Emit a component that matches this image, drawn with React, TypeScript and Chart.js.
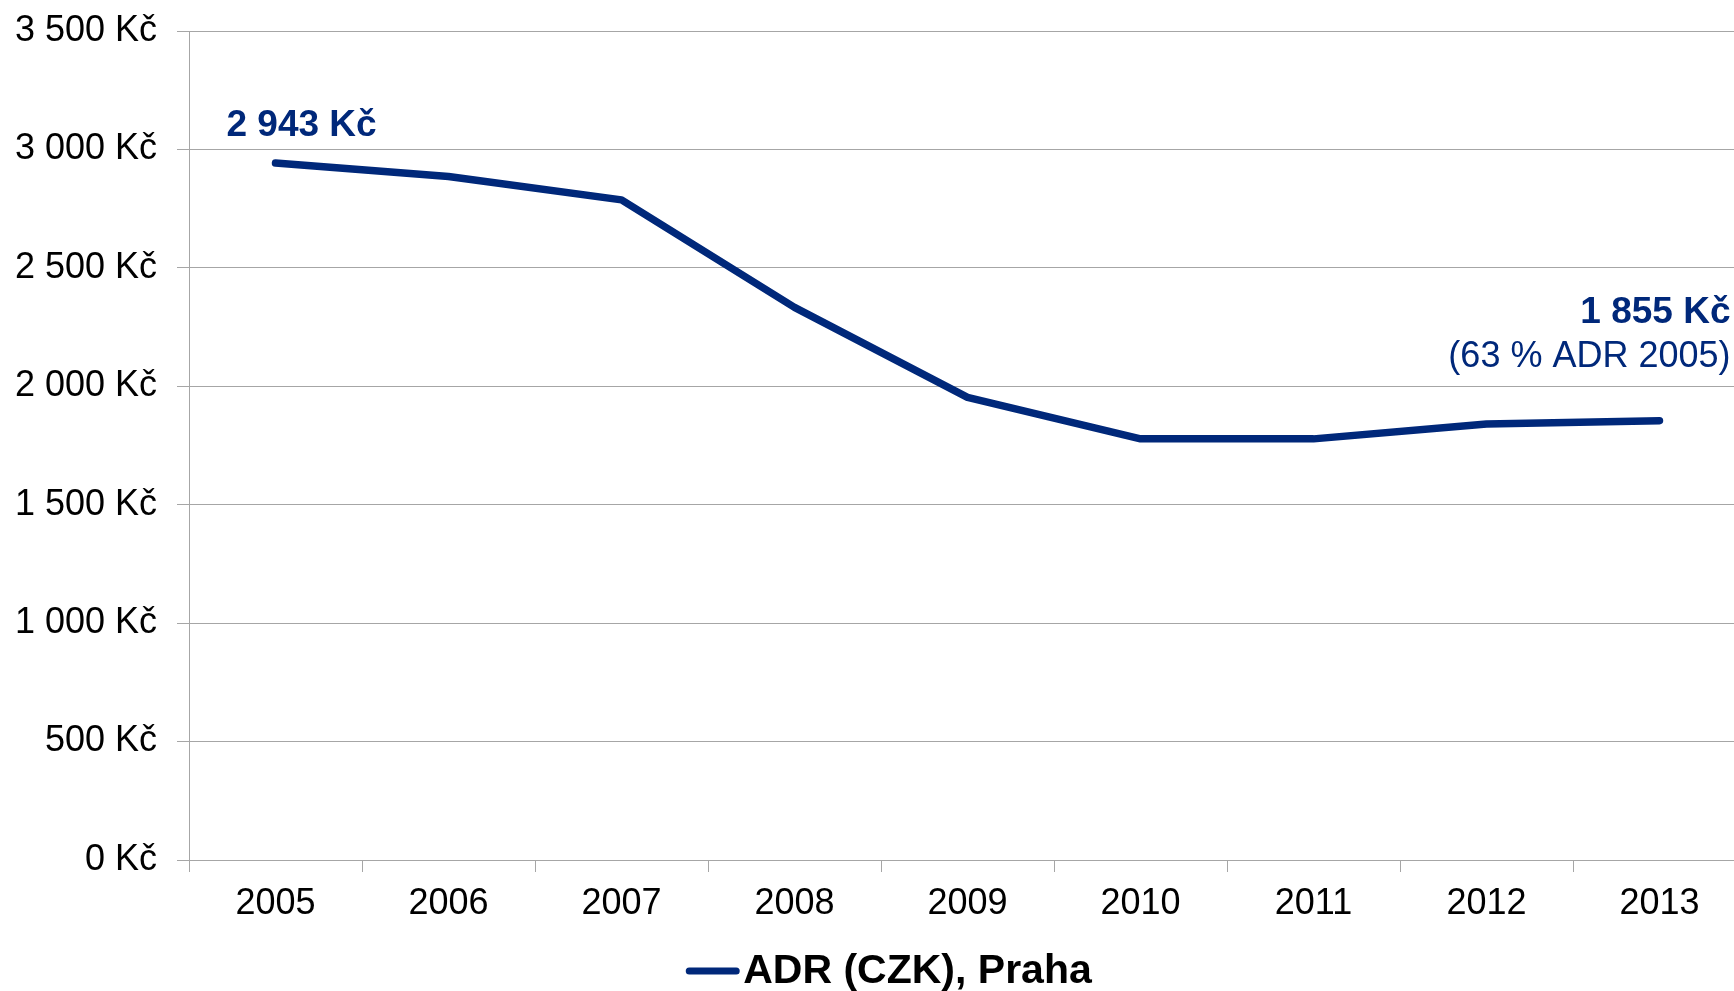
import React, { useEffect, useRef } from "react";
import { Chart, registerables } from "chart.js";

Chart.register(...registerables);

const years = ["2005", "2006", "2007", "2008", "2009", "2010", "2011", "2012", "2013"];
const adrValues = [2943, 2886, 2787, 2333, 1953, 1778, 1778, 1841, 1855];
const seriesLabel = "ADR (CZK), Praha";
const firstLabel = "2 943 Kč";
const lastLabel = "1 855 Kč";
const lastSubLabel = "(63 % ADR 2005)";
const yMin = 0;
const yMax = 3500;
const yStep = 500;

const NAVY = "#00287A";
const GRID = "#a6a6a6";
const FONT = "'Liberation Sans', Arial, sans-serif";

const fmt = (v: number) =>
  String(v).replace(/\B(?=(\d{3})+(?!\d))/g, " ") + " Kč";

const annotationsPlugin = {
  id: "annotations",
  afterDatasetsDraw(chart: any) {
    const ctx = chart.ctx;
    const meta = chart.getDatasetMeta(0);
    const p0 = meta.data[0];
    const pl = meta.data[meta.data.length - 1];
    ctx.save();
    ctx.fillStyle = NAVY;
    ctx.textBaseline = "alphabetic";
    ctx.font = `bold 37px ${FONT}`;
    ctx.textAlign = "left";
    ctx.fillText(firstLabel, p0.x - 49, p0.y - 27);
    ctx.textAlign = "right";
    ctx.fillText(lastLabel, pl.x + 71, pl.y - 98);
    ctx.font = `36px ${FONT}`;
    ctx.fillText(lastSubLabel, pl.x + 71, pl.y - 54);
    ctx.restore();
  },
  afterDraw(chart: any) {
    const ctx = chart.ctx;
    ctx.save();
    ctx.font = `bold 41px ${FONT}`;
    const textW = ctx.measureText(seriesLabel).width;
    const lineW = 53;
    const gap = 4;
    const total = lineW + gap + textW;
    const cx = chart.width / 2 + 16;
    const x0 = cx - total / 2;
    const y = 971;
    ctx.strokeStyle = NAVY;
    ctx.lineWidth = 7;
    ctx.lineCap = "round";
    ctx.beginPath();
    ctx.moveTo(x0 + 3, y);
    ctx.lineTo(x0 + lineW - 3, y);
    ctx.stroke();
    ctx.fillStyle = "#000";
    ctx.textAlign = "left";
    ctx.textBaseline = "alphabetic";
    ctx.fillText(seriesLabel, x0 + lineW + gap, 983);
    ctx.restore();
  },
};

export default function App() {
  const ref = useRef<HTMLCanvasElement | null>(null);

  useEffect(() => {
    if (!ref.current) return;
    const chart = new Chart(ref.current, {
      type: "line",
      data: {
        labels: years,
        datasets: [
          {
            label: seriesLabel,
            data: adrValues,
            borderColor: NAVY,
            backgroundColor: NAVY,
            borderWidth: 7.5,
            borderCapStyle: "round",
            borderJoinStyle: "round",
            pointRadius: 0,
            tension: 0,
            fill: false,
          },
        ],
      },
      options: {
        responsive: false,
        animation: false,
        maintainAspectRatio: false,
        layout: { padding: { top: 31, right: 0, bottom: 0, left: 0 } },
        plugins: {
          legend: { display: false },
          tooltip: { enabled: false },
        },
        scales: {
          x: {
            type: "category",
            offset: true,
            grid: {
              offset: true,
              drawOnChartArea: false,
              drawTicks: true,
              tickLength: 12,
              color: GRID,
              lineWidth: 1,
            },
            border: { display: true, color: GRID, width: 1 },
            ticks: {
              color: "#000",
              font: { family: FONT, size: 36 },
              padding: 10,
              maxRotation: 0,
              autoSkip: false,
            },
            afterFit(scale: any) {
              scale.height = 131;
              scale.paddingLeft = 0;
              scale.paddingRight = 0;
            },
          },
          y: {
            min: yMin,
            max: yMax,
            grid: {
              color: GRID,
              lineWidth: 1,
              tickLength: 12,
              drawTicks: true,
            },
            border: { display: true, color: GRID, width: 1 },
            ticks: {
              stepSize: yStep,
              color: "#000",
              font: { family: FONT, size: 36 },
              padding: 20,
              callback: (v: any) => fmt(Number(v)),
            },
            afterFit(scale: any) {
              scale.width = 189;
              scale.paddingTop = 0;
              scale.paddingBottom = 0;
            },
          },
        },
      },
      plugins: [annotationsPlugin],
    });
    return () => chart.destroy();
  }, []);

  return (
    <div
      style={{
        position: "fixed",
        left: 0,
        top: 0,
        width: 1734,
        height: 991,
        overflow: "hidden",
        background: "#fff",
      }}
    >
      <canvas
        ref={ref}
        width={1746}
        height={991}
        style={{ width: 1746, height: 991, display: "block" }}
      />
    </div>
  );
}
